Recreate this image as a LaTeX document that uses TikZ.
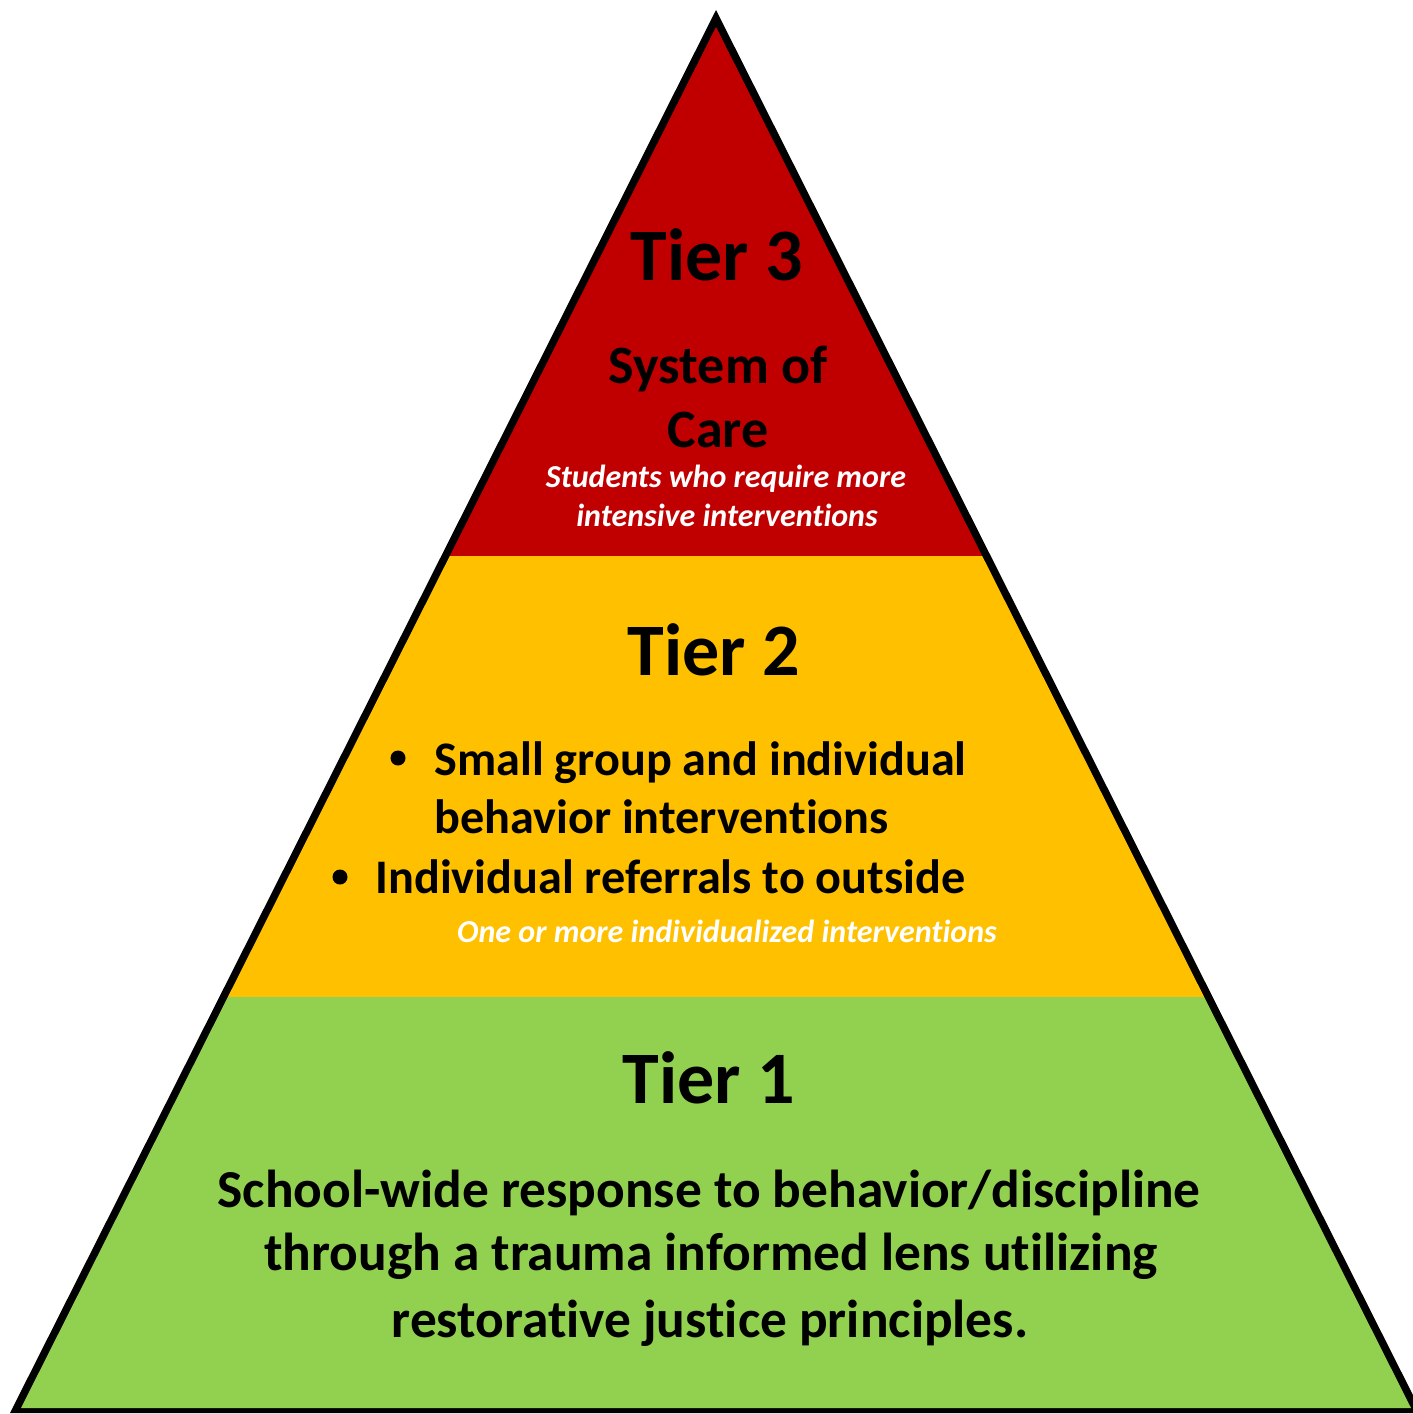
\documentclass[tikz,border=0pt]{standalone}
\usepackage{fontspec}
\setmainfont{Carlito}[Ligatures={NoCommon}]
\definecolor{tierred}{HTML}{C00000}
\definecolor{tieryellow}{HTML}{FFC000}
\definecolor{tiergreen}{HTML}{92D050}
\begin{document}
\begin{tikzpicture}[x=0.5pt,y=-0.5pt,
  tiertitle/.style={anchor=base,inner sep=0pt,font=\fontsize{37}{44}\selectfont\bfseries},
  bodytext/.style={inner sep=0pt,font=\fontsize{27}{32}\selectfont\bfseries},
  basetext/.style={inner sep=0pt,anchor=base,font=\fontsize{26.7}{32}\selectfont\bfseries},
  bullettext/.style={inner sep=0pt,anchor=base west,font=\fontsize{24.1}{29}\selectfont\bfseries},
  notetext/.style={anchor=base,inner sep=0pt,text=white,font=\fontsize{16}{19}\selectfont\bfseries\itshape},
  bulletdot/.style={circle,fill=black,inner sep=0pt,minimum size=7.5pt}]
\useasboundingbox (0,0) rectangle (1413,1414);
% outline
\fill[black] (716,10) -- (10,1413) -- (1422,1413) -- cycle;
% bands
\begin{scope}
  \clip (716,27) -- (21,1408) -- (1411,1408) -- cycle;
  \fill[tierred] (0,0) rectangle (1413,556);
  \fill[tieryellow] (0,556) rectangle (1413,997);
  \fill[tiergreen] (0,997) rectangle (1413,1414);
\end{scope}
% Tier 3
\node[tiertitle] (t3) at (717,280) {Tier 3};
\node[bodytext,anchor=base] (t3a) at (718,383) {System of};
\node[bodytext,anchor=base] (t3b) at (718,447) {Care};
\node[notetext] (t3c) at (726,487) {Students who require more};
\node[notetext] (t3d) at (727,526) {intensive interventions};
% Tier 2
\node[tiertitle] (t2) at (714,675) {Tier 2};
\node[bulletdot] (b1) at (398,758) {};
\node[bullettext] (t2a) at (434,775) {Small group and individual};
\node[bullettext] (t2b) at (434,833) {behavior interventions};
\node[bulletdot] (b2) at (340,877) {};
\node[bullettext] (t2c) at (375,893) {Individual referrals to outside};
\node[notetext] (t2d) at (727,942) {One or more individualized interventions};
% Tier 1
\node[tiertitle] (t1) at (709,1103) {Tier 1};
\node[basetext] (t1a) at (709,1207) {School-wide response to behavior/discipline};
\node[basetext] (t1b) at (711,1270) {through a trauma informed lens utilizing};
\node[basetext] (t1c) at (710,1337) {restorative justice principles.};
\end{tikzpicture}
\end{document}
